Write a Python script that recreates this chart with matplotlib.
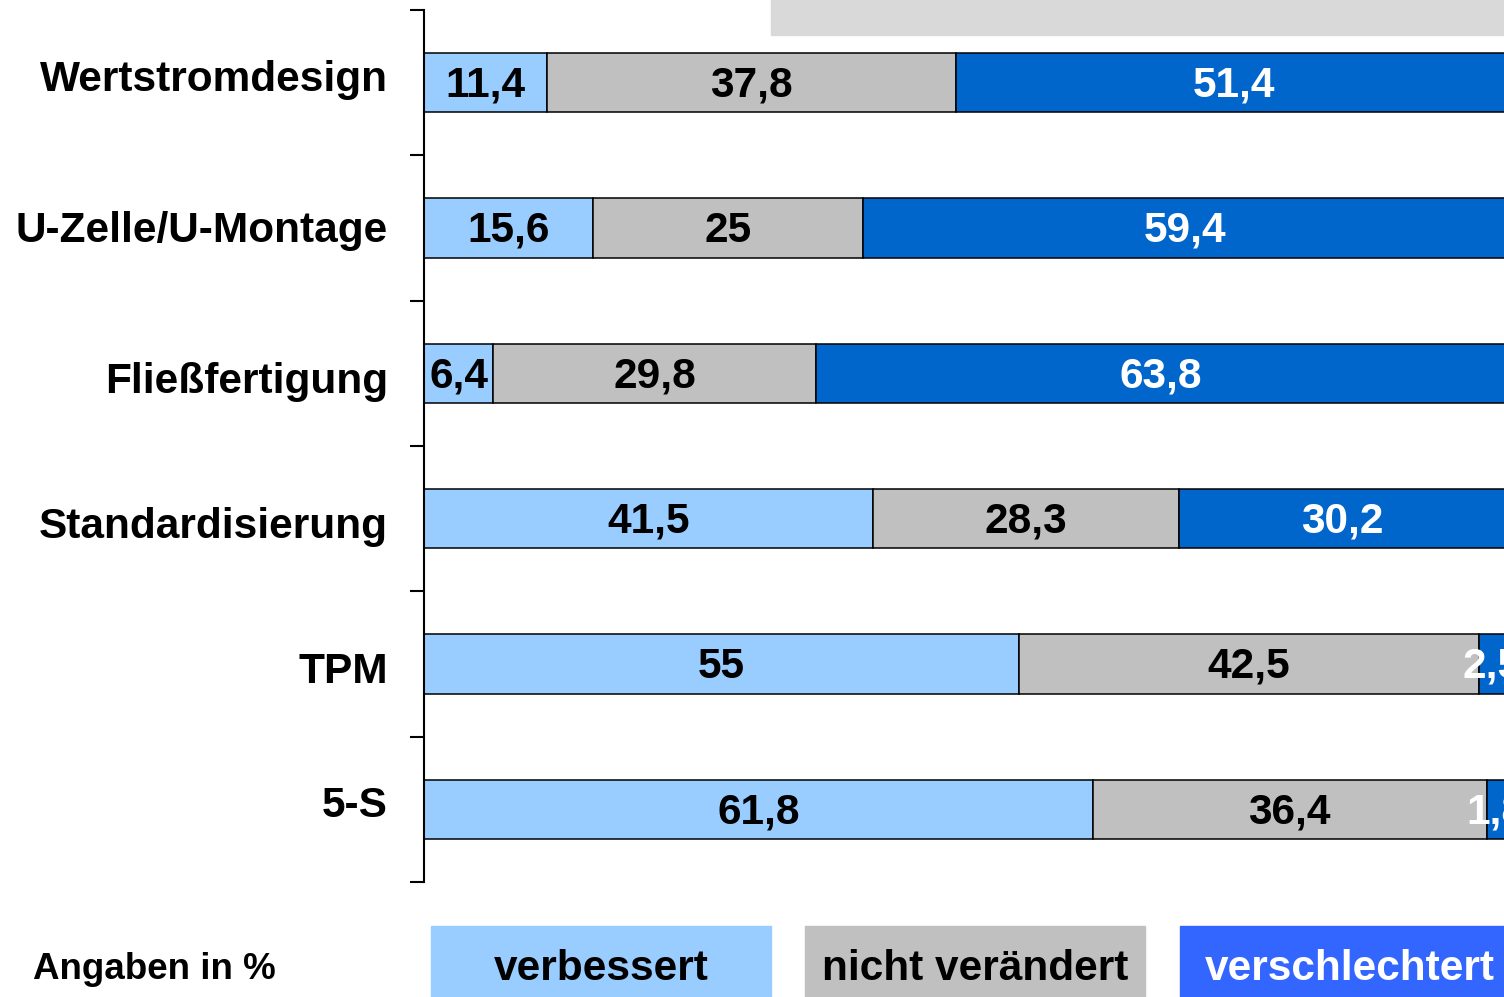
import matplotlib
matplotlib.use("Agg")
import matplotlib.pyplot as plt
from matplotlib.patches import Rectangle

plt.rcParams['font.family'] = ['Liberation Sans', 'DejaVu Sans']
plt.rcParams['font.weight'] = 'bold'

# Data (Angaben in %)
categories = ["Wertstromdesign", "U-Zelle/U-Montage", "Fließfertigung",
              "Standardisierung", "TPM", "5-S"]
verbessert = [11.4, 15.6, 6.4, 41.5, 55, 61.8]
nicht_veraendert = [37.8, 25, 29.8, 28.3, 42.5, 36.4]
verschlechtert = [51.4, 59.4, 63.8, 30.2, 2.5, 1.8]
series_names = ["verbessert", "nicht verändert", "verschlechtert"]

bar_colors = ["#99CCFF", "#C0C0C0", "#0066CC"]
text_colors = ["black", "black", "white"]
legend_colors = ["#99CCFF", "#C0C0C0", "#3366FF"]

W, H = 1504, 997
fig = plt.figure(figsize=(W / 100, H / 100), dpi=100)
# 100 % lies just past the right edge of the picture
ax = fig.add_axes((424 / W, (H - 882) / H, 1082 / W, 872 / H))
ax.set_xlim(0, 100)
ax.set_ylim(len(categories), 0)
px_per_row = 872 / len(categories)

fs = 30.5
ypos = [i + 0.5 for i in range(len(categories))]
lefts = [0] * len(categories)
for vals, col, tcol in zip([verbessert, nicht_veraendert, verschlechtert], bar_colors, text_colors):
    ax.barh(ypos, vals, left=lefts, height=0.41, color=col, edgecolor='black',
            linewidth=1.1, zorder=2)
    for y, l, v in zip(ypos, lefts, vals):
        lab = f"{v:g}".replace('.', ',')
        ax.text(l + v / 2, y + 14 / px_per_row, lab, ha='center', va='baseline', fontsize=fs,
                color=tcol, fontweight='bold', clip_on=False, zorder=3)
    lefts = [l + v for l, v in zip(lefts, vals)]

# Category labels (baseline offsets below the bar centre, in pixels)
label_dy = [8, 14, 20, 19, 19, 8]
for y, name, dy in zip(ypos, categories, label_dy):
    ax.text(-36 / 10.82, y + dy / px_per_row, name, ha='right', va='baseline', fontsize=fs,
            fontweight='bold', color='black')

# Axis styling
for s in ['top', 'right', 'bottom']:
    ax.spines[s].set_visible(False)
ax.spines['left'].set_linewidth(1.5)
ax.set_xticks([])
ax.set_yticks(range(len(categories) + 1))
ax.set_yticklabels([])
ax.tick_params(axis='y', direction='out', length=10, width=1.5)

# Gray box at top (cut off)
fig.patches.append(Rectangle((771 / W, (H - 35) / H), (W - 771) / W + 0.01, 0.05,
                             transform=fig.transFigure, color='#D9D9D9', zorder=0))

# Legend
fig.text(33 / W, (H - 979) / H, "Angaben in %", ha='left', va='baseline', fontsize=26.5,
         fontweight='bold')
box_x = [(431, 771), (805, 1145), (1180, 1520)]
text_cx = [601, 975, 1350]
for (x0, x1), col, tcol, name, cx in zip(box_x, legend_colors, text_colors, series_names, text_cx):
    fig.patches.append(Rectangle((x0 / W, 0), (x1 - x0) / W, (H - 926) / H,
                                 transform=fig.transFigure, color=col, zorder=0))
    fig.text(cx / W, (H - 980) / H, name, ha='center', va='baseline', fontsize=fs,
             fontweight='bold', color=tcol)

fig.savefig("out.png", dpi=100)
